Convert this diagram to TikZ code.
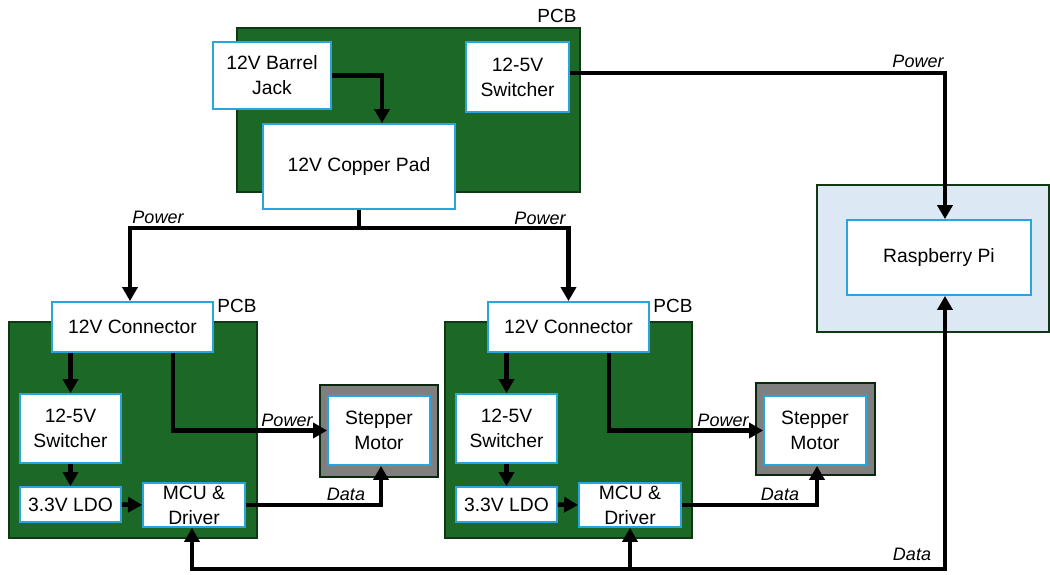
\documentclass[tikz,border=0pt]{standalone}
\usepackage{fontspec}
\setmainfont{Liberation Sans}
\usetikzlibrary{arrows.meta}
\definecolor{pcbgreen}{RGB}{28,104,38}
\definecolor{pcbedge}{RGB}{16,56,20}
\definecolor{boxcyan}{RGB}{40,165,222}
\definecolor{rpifill}{RGB}{221,232,245}
\definecolor{motorgray}{RGB}{127,127,127}
\begin{document}
\begin{tikzpicture}[x=1pt,y=-1pt,
  box/.style={draw=boxcyan, line width=1.8pt, fill=white, inner sep=0pt, align=center, font=\fontsize{19.3}{25}\selectfont},
  pcb/.style={draw=pcbedge, line width=1.5pt, fill=pcbgreen, inner sep=0pt},
  rpibox/.style={draw=pcbedge, line width=1.5pt, fill=rpifill, inner sep=0pt},
  motorbox/.style={draw=pcbedge!70!black, line width=1.2pt, fill=motorgray, inner sep=0pt},
  lbl/.style={font=\fontsize{18}{20}\selectfont\itshape, inner sep=0pt},
  pcblbl/.style={font=\fontsize{19}{20}\selectfont, inner sep=0pt},
  arr/.style={line width=4.5pt, -{Triangle[length=14pt,width=15pt]}},
  darr/.style={line width=4.5pt, {Triangle[length=14pt,width=15pt]}-{Triangle[length=14pt,width=15pt]}},
  wire/.style={line width=4.5pt},
]
\useasboundingbox (0,0) rectangle (1050,574);

% containers
\node[pcb, minimum width=343pt, minimum height=164pt] (topPCB) at (408.5,110) {};
\node[pcb, minimum width=248pt, minimum height=216pt] (leftPCB) at (133,430) {};
\node[pcb, minimum width=247pt, minimum height=216pt] (rightPCB) at (568.5,430) {};
\node[rpibox, minimum width=232pt, minimum height=147pt] (rpiOuter) at (933,258.5) {};
\node[motorbox, minimum width=118pt, minimum height=92pt] (stepLo) at (379,431) {};
\node[motorbox, minimum width=119pt, minimum height=92pt] (stepRo) at (815.5,429) {};

% PCB labels
\node[pcblbl] (pcbT) at (557,16) {PCB};
\node[pcblbl] (pcbL) at (237,306) {PCB};
\node[pcblbl] (pcbR) at (673,306) {PCB};

% top board
\node[box, minimum width=118pt, minimum height=67pt] (barrel) at (272,75.5) {12V Barrel\\Jack};
\node[box, minimum width=103pt, minimum height=70pt] (topsw) at (517.5,77) {12-5V\\Switcher};
\node[box, minimum width=192pt, minimum height=85pt] (pad) at (359,166.5) {12V Copper Pad};

% raspberry pi
\node[box, minimum width=184pt, minimum height=75pt] (rpi) at (939,257.5) {Raspberry Pi};

% left board
\node[box, minimum width=161pt, minimum height=50pt] (connL) at (132.5,327) {12V Connector};
\node[box, minimum width=101pt, minimum height=69pt] (swL) at (70.5,428.5) {12-5V\\Switcher};
\node[box, minimum width=101pt, minimum height=35pt] (ldoL) at (70.5,504.5) {3.3V LDO};
\node[box, minimum width=102pt, minimum height=44pt] (mcuL) at (194,505) {MCU \&\\Driver};
\node[box, minimum width=102pt, minimum height=69pt] (stepL) at (379,430.5) {Stepper\\Motor};

% right board
\node[box, minimum width=161pt, minimum height=50pt] (connR) at (568.5,327) {12V Connector};
\node[box, minimum width=101pt, minimum height=69pt] (swR) at (506.5,428.5) {12-5V\\Switcher};
\node[box, minimum width=101pt, minimum height=35pt] (ldoR) at (506.5,504.5) {3.3V LDO};
\node[box, minimum width=102pt, minimum height=44pt] (mcuR) at (630,505) {MCU \&\\Driver};
\node[box, minimum width=102pt, minimum height=69pt] (stepR) at (815,430.5) {Stepper\\Motor};

% coordinates
\coordinate (split) at (359,228);
\coordinate (bus) at (0,569);
\coordinate (toppow) at (0,73);

% top connections
\draw[arr] (barrel.east) -| ([xshift=23pt]pad.north);
\draw[arr] (topsw.east |- toppow) -| ([xshift=6pt]rpi.north);
\draw[wire] (pad.south) -- (split);
\draw[darr] ([xshift=-2.5pt]connL.north) |- (split) -| (connR.north);

% left board connections
\draw[arr] (connL.south -| swL.north) -- (swL.north);
\draw[arr] (swL.south) -- (ldoL.north);
\draw[arr] (ldoL.east) -- (mcuL.west);
\draw[arr] ([xshift=40.5pt]connL.south) |- (stepL.west);
\draw[arr] (mcuL.east) -| ([xshift=2pt]stepL.south);

% right board connections
\draw[arr] (connR.south -| swR.north) -- (swR.north);
\draw[arr] (swR.south) -- (ldoR.north);
\draw[arr] (ldoR.east) -- (mcuR.west);
\draw[arr] ([xshift=40.5pt]connR.south) |- (stepR.west);
\draw[arr] (mcuR.east) -| ([xshift=2pt]stepR.south);

% data bus
\draw[darr] ([xshift=-2pt]mcuL.south) -- ([xshift=-2pt]mcuL.south |- bus) -| ([xshift=6pt]rpi.south);
\draw[arr] (mcuR.south |- bus) -- (mcuR.south);

% labels
\node[lbl] (lpTop) at (918,61) {Power};
\node[lbl] (lpL) at (158,217) {Power};
\node[lbl] (lpR) at (540,218) {Power};
\node[lbl] (lpSL) at (287,420) {Power};
\node[lbl] (lpSR) at (723,420) {Power};
\node[lbl] (ldL) at (346,494) {Data};
\node[lbl] (ldR) at (780,494) {Data};
\node[lbl] (ldB) at (912,554) {Data};
\end{tikzpicture}
\end{document}
